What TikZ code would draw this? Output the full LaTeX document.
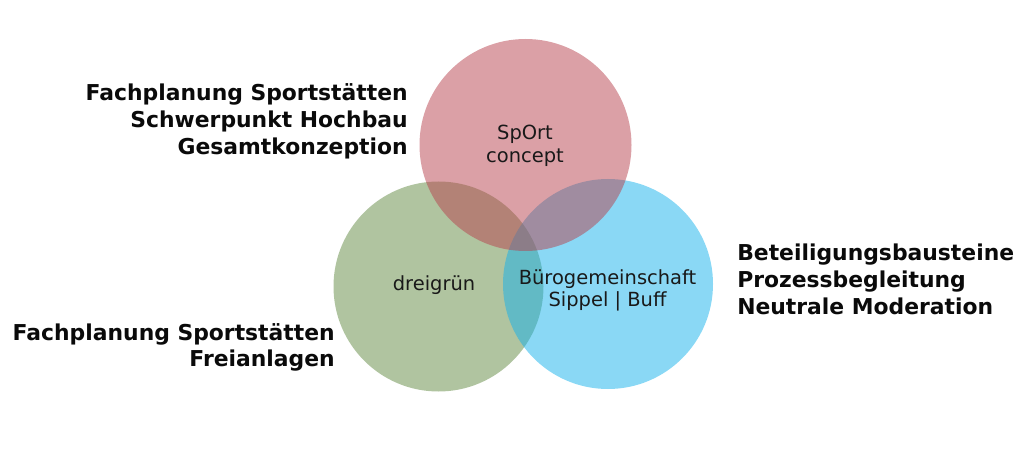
\documentclass[tikz,border=0pt]{standalone}
\usepackage{fontspec}
\setmainfont{DejaVu Sans}
\definecolor{cred}{RGB}{183,65,77}
\definecolor{cgreen}{RGB}{97,137,65}
\definecolor{cblue}{RGB}{21,177,235}
\definecolor{ctext}{RGB}{10,10,10}
\definecolor{cintext}{RGB}{25,25,25}
\tikzset{
  venn/.style={circle, inner sep=0pt, fill opacity=0.5, draw=none},
  biglabel/.style={inner sep=0pt, font=\fontsize{16.4}{19.5}\selectfont\bfseries, text=ctext},
  inlabel/.style={inner sep=0pt, font=\fontsize{14.6}{17}\selectfont, text=cintext}
}
\begin{document}
\begin{tikzpicture}[x=0.75pt,y=-0.75pt]
\useasboundingbox (0,0) rectangle (1025,449);
\node[venn, fill=cgreen, minimum size=157.5pt] (green) at (438.5,286.5) {};
\node[venn, fill=cblue, minimum size=157.5pt] (blue) at (608,284) {};
\node[venn, fill=cred, minimum size=159pt] (red) at (525.5,145) {};
% inner labels
\node[inlabel, anchor=base] (t1) at (525,140) {SpOrt};
\node[inlabel, anchor=base] (t2) at (525,163) {concept};
\node[inlabel, anchor=base] (t3) at (434,290) {dreigrün};
\node[inlabel, anchor=base] (t4) at (607.5,284) {Bürogemeinschaft};
\node[inlabel, anchor=base] (t5) at (607.5,306.5) {Sippel | Buff};
% outer labels
\node[biglabel, anchor=base east] (a1) at (408,101) {Fachplanung Sportstätten};
\node[biglabel, anchor=base east] (a2) at (408,128) {Schwerpunkt Hochbau};
\node[biglabel, anchor=base east] (a3) at (408,155) {Gesamtkonzeption};
\node[biglabel, anchor=base east] (b1) at (335,340) {Fachplanung Sportstätten};
\node[biglabel, anchor=base east] (b2) at (335,366) {Freianlagen};
\node[biglabel, anchor=base west] (c1) at (737,261) {Beteiligungsbausteine};
\node[biglabel, anchor=base west] (c2) at (737,287) {Prozessbegleitung};
\node[biglabel, anchor=base west] (c3) at (737,314) {Neutrale Moderation};
\end{tikzpicture}
\end{document}
